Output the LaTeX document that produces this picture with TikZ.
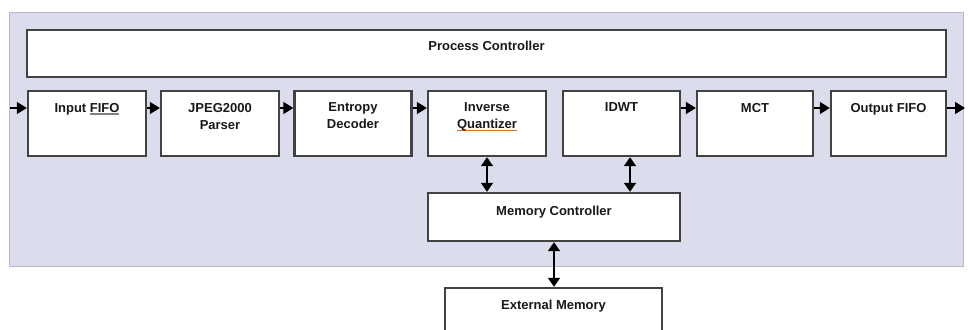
\documentclass[tikz,border=0pt]{standalone}
\usepackage{fontspec}
\setmainfont{Liberation Sans}
\usepackage{xcolor}
\usetikzlibrary{arrows.meta,positioning}

\definecolor{panel}{HTML}{DCDDEC}
\definecolor{panelline}{HTML}{B9BACB}
\definecolor{boxline}{HTML}{424242}
\definecolor{spellul}{HTML}{C8742C}

\newlength\ulwd
\newcommand\markword[2]{\settowidth\ulwd{#2}\rlap{\color{#1}\rule[-2.5pt]{\ulwd}{1.2pt}}#2}

\tikzset{
  blk/.style={rectangle,draw=boxline,line width=2.4pt,fill=white,inner sep=0pt},
  lbl/.style={inner sep=0pt,align=center,font=\fontsize{13}{17}\selectfont\bfseries,text=black!90},
  flow/.style={line width=1.6pt,-{Triangle[length=10pt,width=12pt]}},
  bus/.style={line width=1.8pt,{Triangle[length=9pt,width=12pt]}-{Triangle[length=9pt,width=12pt]}}
}

\begin{document}
\begin{tikzpicture}[x=1pt,y=-1pt]
        \clip (0,0) rectangle (968,329);
        \fill[white] (0,0) rectangle (968,329);

        % decoder panel
        \draw[panelline,fill=panel,line width=1pt] (9,13) rectangle (963,266);

        \coordinate (in)  at (10,108);
        \coordinate (out) at (965,108);

        \node[blk,minimum width=919pt,minimum height=47pt] (proc) at (486.5,53.5) {};
        \node[lbl,below=12pt of proc.north] (proc-t) {Process Controller};

        \node[blk,minimum width=118pt,minimum height=65pt] (inp)   at (87,123.5)    {};
        \node[blk,minimum width=118pt,minimum height=65pt] (jpeg)  at (220,123.5)   {};
        \node[blk,minimum width=117pt,minimum height=65pt] (ent)   at (353,123.5)   {};
        \node[blk,minimum width=118pt,minimum height=65pt] (iq)    at (487,123.5)   {};
        \node[blk,minimum width=117pt,minimum height=65pt] (idwt)  at (621.5,123.5) {};
        \node[blk,minimum width=116pt,minimum height=65pt] (mct)   at (755,123.5)   {};
        \node[blk,minimum width=115pt,minimum height=65pt] (ofifo) at (888.5,123.5) {};

        \node[lbl,below=13pt of inp.north]   (inp-t)   {Input \markword{gray}{FIFO}};
        \node[lbl,below=13pt of jpeg.north]  (jpeg-t)  {JPEG2000\\Parser};
        \node[lbl,below=13pt of ent.north]   (ent-t)   {Entropy\\Decoder};
        \node[lbl,below=13pt of iq.north]    (iq-t)    {Inverse\\\markword{spellul}{Quantizer}};
        \node[lbl,below=13pt of idwt.north]  (idwt-t)  {IDWT};
        \node[lbl,below=13pt of mct.north]   (mct-t)   {MCT};
        \node[lbl,below=13pt of ofifo.north] (ofifo-t) {Output FIFO};

        \node[blk,minimum width=252pt,minimum height=48pt] (memc) at (554,217)   {};
        \node[lbl,below=14pt of memc.north] (memc-t) {Memory Controller};

        \node[blk,minimum width=217pt,minimum height=60pt] (ext)  at (553.5,318) {};
        \node[lbl,below=13pt of ext.north] (ext-t) {External Memory};

        \draw[flow] (in) -- ([yshift=15.5pt]inp.west);
        \draw[flow] ([yshift=15.5pt]inp.east)   -- ([yshift=15.5pt]jpeg.west);
        \draw[flow] ([yshift=15.5pt]jpeg.east)  -- ([yshift=15.5pt]ent.west);
        \draw[flow] ([yshift=15.5pt]ent.east)   -- ([yshift=15.5pt]iq.west);
        \draw[flow] ([yshift=15.5pt]idwt.east)  -- ([yshift=15.5pt]mct.west);
        \draw[flow] ([yshift=15.5pt]mct.east)   -- ([yshift=15.5pt]ofifo.west);
        \draw[flow] ([yshift=15.5pt]ofifo.east) -- (out);

        \draw[bus] (iq.south) -- (iq.south |- memc.north);
        \draw[bus] ([xshift=8.5pt]idwt.south) -- ([xshift=8.5pt]idwt.south |- memc.north);
        \draw[bus] (memc.south) -- (memc.south |- ext.north);
    \end{tikzpicture}
\end{document}
